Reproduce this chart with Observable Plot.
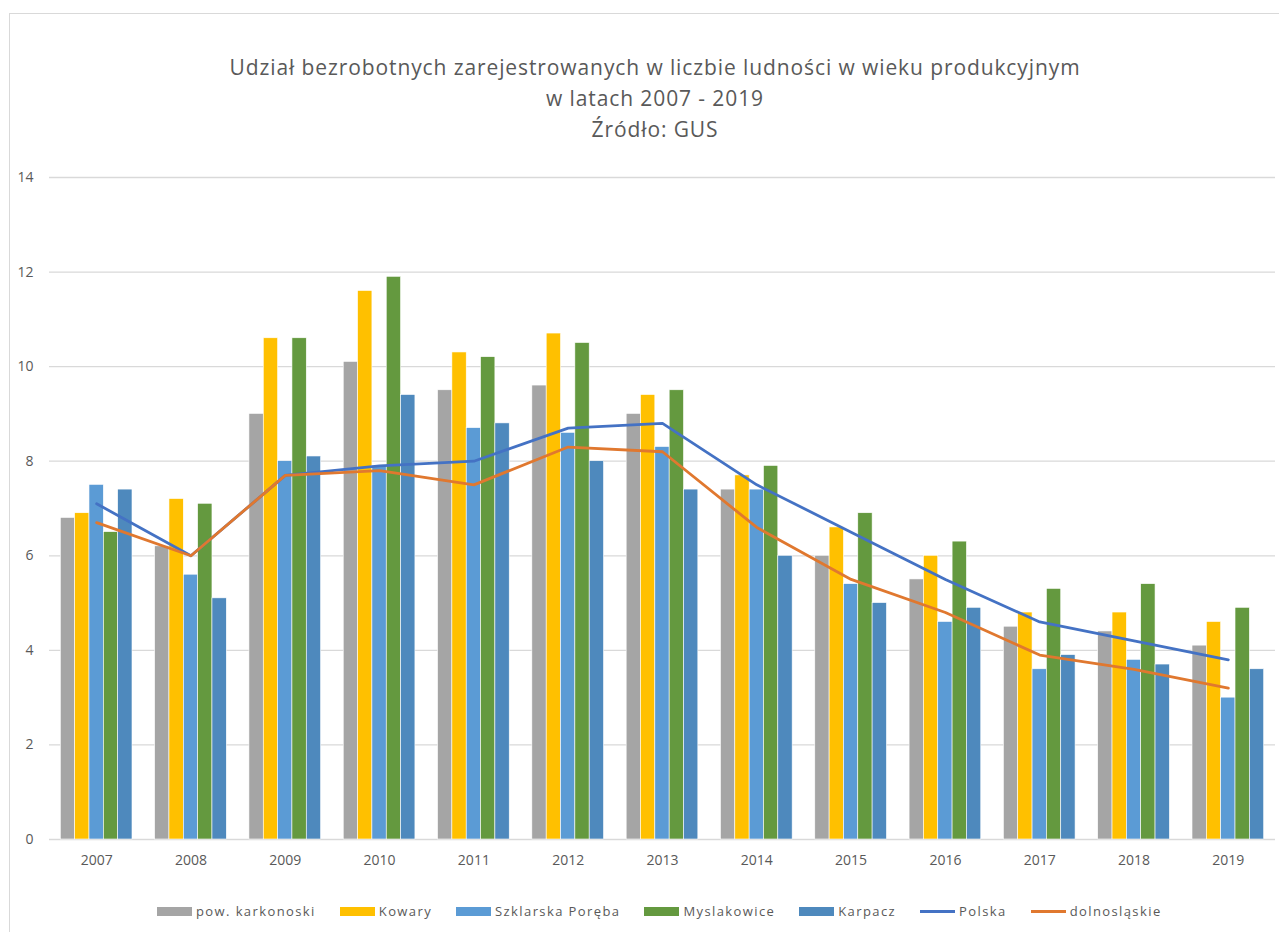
<!DOCTYPE html>
<html>
<head>
<meta charset="utf-8">
<script src="https://cdn.jsdelivr.net/npm/d3@7"></script>
<script src="https://cdn.jsdelivr.net/npm/@observablehq/plot@0.6"></script>
<style>
  html, body { margin: 0; padding: 0; background: #fff; overflow: hidden; }
  #wrap { position: relative; width: 1279px; height: 932px; font-family: "Open Sans", sans-serif; color: #595959; }
  #border { position: absolute; left: 9px; top: 13px; width: 1300px; height: 1000px; border: 1.5px solid #d9d9d9; box-sizing: border-box; }
  #title { position: absolute; left: 0; top: 52px; width: 1310px; text-align: center; font-size: 21px; line-height: 31px; letter-spacing: 0.9px; color: #595959; }
  #legend { position: absolute; left: 157px; top: 902px; display: flex; align-items: center; font-size: 13px; letter-spacing: 1.4px; color: #595959; white-space: nowrap; }
  .item { display: flex; align-items: center; margin-right: 24px; }
  .sw { width: 35px; height: 9px; margin-right: 4px; }
  .ln { width: 35px; height: 3px; margin-right: 4px; }
  svg.layer { position: absolute; left: 0; top: 160px; }
</style>
</head>
<body>
<div id="wrap">
  <div id="border"></div>
  <div id="title"></div>
  <div id="chart"></div>
  <div id="legend"></div>
</div>
<script>
// ---- data ----
const titleLines = [
  "Udział bezrobotnych zarejestrowanych w liczbie ludności w wieku produkcyjnym",
  "w latach 2007 - 2019",
  "Źródło: GUS"
];
const years = ["2007","2008","2009","2010","2011","2012","2013","2014","2015","2016","2017","2018","2019"];
const barSeries = ["pow. karkonoski","Kowary","Szklarska Poręba","Myslakowice","Karpacz"];
const lineSeries = ["Polska","dolnosląskie"];
const yTicks = [0,2,4,6,8,10,12,14];

const powKarkonoski = [6.8,6.2,9.0,10.1,9.5,9.6,9.0,7.4,6.0,5.5,4.5,4.4,4.1];
const kowary        = [6.9,7.2,10.6,11.6,10.3,10.7,9.4,7.7,6.6,6.0,4.8,4.8,4.6];
const szklarska     = [7.5,5.6,8.0,7.9,8.7,8.6,8.3,7.4,5.4,4.6,3.6,3.8,3.0];
const myslakowice   = [6.5,7.1,10.6,11.9,10.2,10.5,9.5,7.9,6.9,6.3,5.3,5.4,4.9];
const karpacz       = [7.4,5.1,8.1,9.4,8.8,8.0,7.4,6.0,5.0,4.9,3.9,3.7,3.6];
const polska        = [7.1,6.0,7.7,7.9,8.0,8.7,8.8,7.5,6.5,5.5,4.6,4.2,3.8];
const dolnoslaskie  = [6.7,6.0,7.7,7.8,7.5,8.3,8.2,6.6,5.5,4.8,3.9,3.6,3.2];

// ---- styles ----
const barColors = ["#A5A5A5","#FFC000","#5B9BD5","#64993F","#4E89BD"];
const lineColors = ["#4472C4","#E0782F"];
const font = '"Open Sans", sans-serif';

const barValues = [powKarkonoski, kowary, szklarska, myslakowice, karpacz];
const lineValues = [polska, dolnoslaskie];
const barsData = years.flatMap((y, i) => barSeries.map((s, k) => ({year: y, series: s, value: barValues[k][i]})));
const linesData = lineSeries.flatMap((s, k) => years.map((y, i) => ({year: y, name: s, value: lineValues[k][i]})));

const dims = {width: 1279, height: 720, marginLeft: 49, marginRight: 4, marginTop: 17, marginBottom: 41};

// background: grid + axes
const bg = Plot.plot({
  ...dims,
  style: {fontSize: "14px", fontFamily: font, color: "#595959", background: "transparent"},
  x: {type: "point", domain: years, padding: 0.5, round: false, tickSize: 0, tickPadding: 16, label: null},
  y: {domain: [0, 14], ticks: yTicks, tickSize: 0, tickPadding: 16, label: null, tickFormat: d => String(d)},
  marks: [
    Plot.ruleY(yTicks, {stroke: "#d9d9d9", strokeWidth: 1.3})
  ]
});

// bars, grouped by year
const bars = Plot.plot({
  ...dims,
  style: {background: "transparent"},
  facet: {data: barsData, x: "year"},
  fx: {domain: years, paddingInner: 0.24, paddingOuter: 0.12, round: false, axis: null, label: null},
  x: {domain: barSeries, padding: 0, round: false, axis: null},
  y: {domain: [0, 14], axis: null},
  color: {domain: barSeries, range: barColors},
  marks: [
    Plot.barY(barsData, {x: "series", y: "value", fill: "series", stroke: "white", strokeWidth: 0.6})
  ]
});

// lines
const lines = Plot.plot({
  ...dims,
  style: {background: "transparent"},
  x: {type: "point", domain: years, padding: 0.5, round: false, axis: null},
  y: {domain: [0, 14], axis: null},
  color: {domain: lineSeries, range: lineColors},
  marks: [
    Plot.line(linesData, {x: "year", y: "value", z: "name", stroke: "name", strokeWidth: 2.8})
  ]
});

const chart = document.getElementById("chart");
for (const s of [bg, bars, lines]) { s.classList.add("layer"); chart.appendChild(s); }

// title
const t = document.getElementById("title");
titleLines.forEach(l => { const d = document.createElement("div"); d.textContent = l; t.appendChild(d); });

// legend
const lg = document.getElementById("legend");
barSeries.forEach((s, k) => {
  const it = document.createElement("div"); it.className = "item";
  const sw = document.createElement("div"); sw.className = "sw"; sw.style.background = barColors[k];
  const tx = document.createElement("span"); tx.textContent = s;
  it.append(sw, tx); lg.appendChild(it);
});
lineSeries.forEach((s, k) => {
  const it = document.createElement("div"); it.className = "item";
  const sw = document.createElement("div"); sw.className = "ln"; sw.style.background = lineColors[k];
  const tx = document.createElement("span"); tx.textContent = s;
  it.append(sw, tx); lg.appendChild(it);
});
</script>
</body>
</html>
